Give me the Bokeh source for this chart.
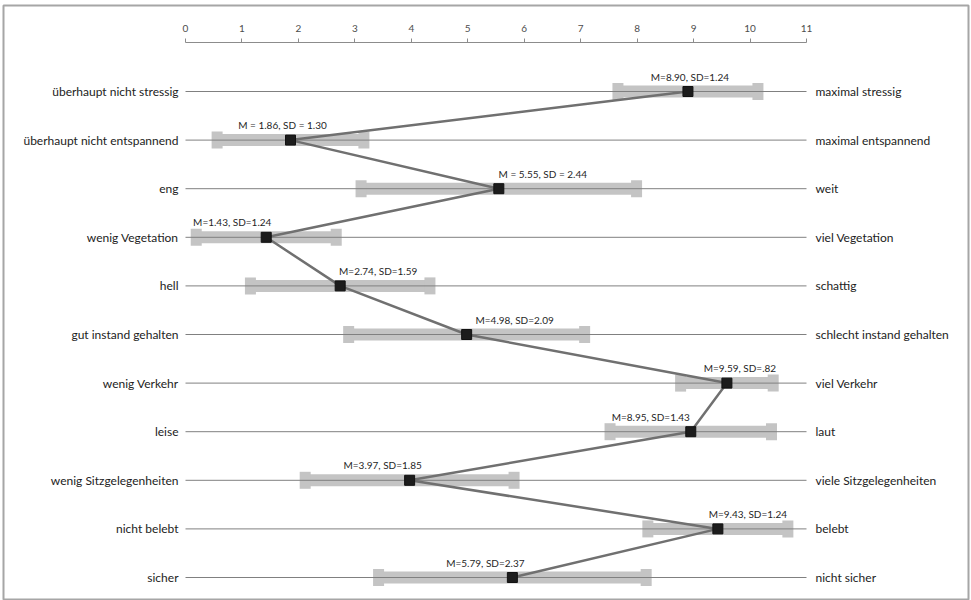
from bokeh.plotting import figure
from bokeh.models import Range1d, LinearAxis, FixedTicker, ColumnDataSource
from bokeh.core.properties import value
from bokeh.embed import file_html
from bokeh.resources import INLINE

# --- data -----------------------------------------------------------------
left_labels = [
    "überhaupt nicht stressig", "überhaupt nicht entspannend", "eng",
    "wenig Vegetation", "hell", "gut instand gehalten", "wenig Verkehr",
    "leise", "wenig Sitzgelegenheiten", "nicht belebt", "sicher",
]
right_labels = [
    "maximal stressig", "maximal entspannend", "weit", "viel Vegetation",
    "schattig", "schlecht instand gehalten", "viel Verkehr", "laut",
    "viele Sitzgelegenheiten", "belebt", "nicht sicher",
]
means = [8.90, 1.86, 5.55, 1.43, 2.74, 4.98, 9.59, 8.95, 3.97, 9.43, 5.79]
sds = [1.24, 1.30, 2.44, 1.24, 1.59, 2.09, 0.82, 1.43, 1.85, 1.24, 2.37]
value_labels = [
    "M=8.90, SD=1.24", "M = 1.86, SD = 1.30", "M = 5.55, SD = 2.44",
    "M=1.43, SD=1.24", "M=2.74, SD=1.59", "M=4.98, SD=2.09",
    "M=9.59, SD=.82", "M=8.95, SD=1.43", "M=3.97, SD=1.85",
    "M=9.43, SD=1.24", "M=5.79, SD=2.37",
]
ticks = list(range(0, 12))

# horizontal nudges (px) of the value labels relative to their markers
label_dx = [2, -8, 44, -34, 38, 48, 13, -40, -27, 30, -27]

# --- layout in pixels -------------------------------------------------------
W, H = 971, 600
PAD_L, PAD_R, PAD_T, PAD_B = 3, 3, 5, 0
X0_PX, X11_PX = 185, 806          # screen position of scale 0 and 11
ROW0_PX, ROW_STEP = 91, 48.6      # first row and row spacing
AXIS_PX = 42                      # scale line

px_per_unit = (X11_PX - X0_PX) / (ticks[-1] - ticks[0])
x_start = (PAD_L - X0_PX) / px_per_unit
x_end = (W - PAD_R - X0_PX) / px_per_unit
y_top = (PAD_T - ROW0_PX) / ROW_STEP
y_bottom = (H - PAD_B - ROW0_PX) / ROW_STEP

rows = list(range(len(means)))
src = ColumnDataSource(dict(
    y=rows, m=means, sd=sds, w=[2 * s for s in sds],
    lo=[m - s for m, s in zip(means, sds)],
    hi=[m + s for m, s in zip(means, sds)],
    lab=value_labels, dx=label_dx,
    left=left_labels, right=right_labels,
    x0=[ticks[0]] * len(means), x1=[ticks[-1]] * len(means),
))

p = figure(
    width=W, height=H, output_backend="svg", toolbar_location=None,
    x_range=Range1d(x_start, x_end), y_range=Range1d(y_bottom, y_top),
    x_axis_location=None, y_axis_location=None,
    min_border_left=PAD_L, min_border_right=PAD_R,
    min_border_top=PAD_T, min_border_bottom=PAD_B,
)
p.grid.visible = False
p.outline_line_color = "#a6a6a6"
p.outline_line_width = 2
p.background_fill_color = "white"
p.border_fill_color = "white"

# scale on top
axis = LinearAxis(
    ticker=FixedTicker(ticks=ticks), bounds=(ticks[0], ticks[-1]),
    fixed_location=(AXIS_PX - ROW0_PX) / ROW_STEP,
    axis_line_color="#8c8c8c", axis_line_width=1,
    major_tick_line_color="#8c8c8c", major_tick_in=0, major_tick_out=4,
    minor_tick_line_color=None,
    major_label_text_font="Lato", major_label_text_font_size="10px",
    major_label_text_color="#4d4d4d", major_label_standoff=7,
)
p.add_layout(axis, "above")

FONT = value("Lato")

# SD bars with end caps
p.rect(x="m", y="y", width="w", height=12, height_units="screen",
       source=src, fill_color="#c4c4c4", line_color=None)
p.rect(x="lo", y="y", width=11, height=17, width_units="screen",
       height_units="screen", source=src, fill_color="#c4c4c4", line_color=None)
p.rect(x="hi", y="y", width=11, height=17, width_units="screen",
       height_units="screen", source=src, fill_color="#c4c4c4", line_color=None)

# item lines
p.segment(x0="x0", x1="x1", y0="y", y1="y", source=src,
          line_color="#808080", line_width=1)

# profile line and means
p.line(x="m", y="y", source=src, line_color="#707070", line_width=2.5)
p.scatter(x="m", y="y", source=src, marker="square", size=10,
          fill_color="#1c1c1c", line_color="#111111", line_width=1)

# value labels
p.text(x="m", y="y", text="lab", source=src, x_offset="dx", y_offset=-15,
       text_align="center", text_baseline="middle", text_font=FONT,
       text_font_size="10px", text_color="#1f1f1f")

# pole labels
p.text(x="x0", y="y", text="left", source=src, x_offset=-7,
       text_align="right", text_baseline="middle", text_font=FONT,
       text_font_size="12px", text_color="#222222")
p.text(x="x1", y="y", text="right", source=src, x_offset=9,
       text_align="left", text_baseline="middle", text_font=FONT,
       text_font_size="12px", text_color="#222222")

open("out.html", "w").write(file_html(p, INLINE))
